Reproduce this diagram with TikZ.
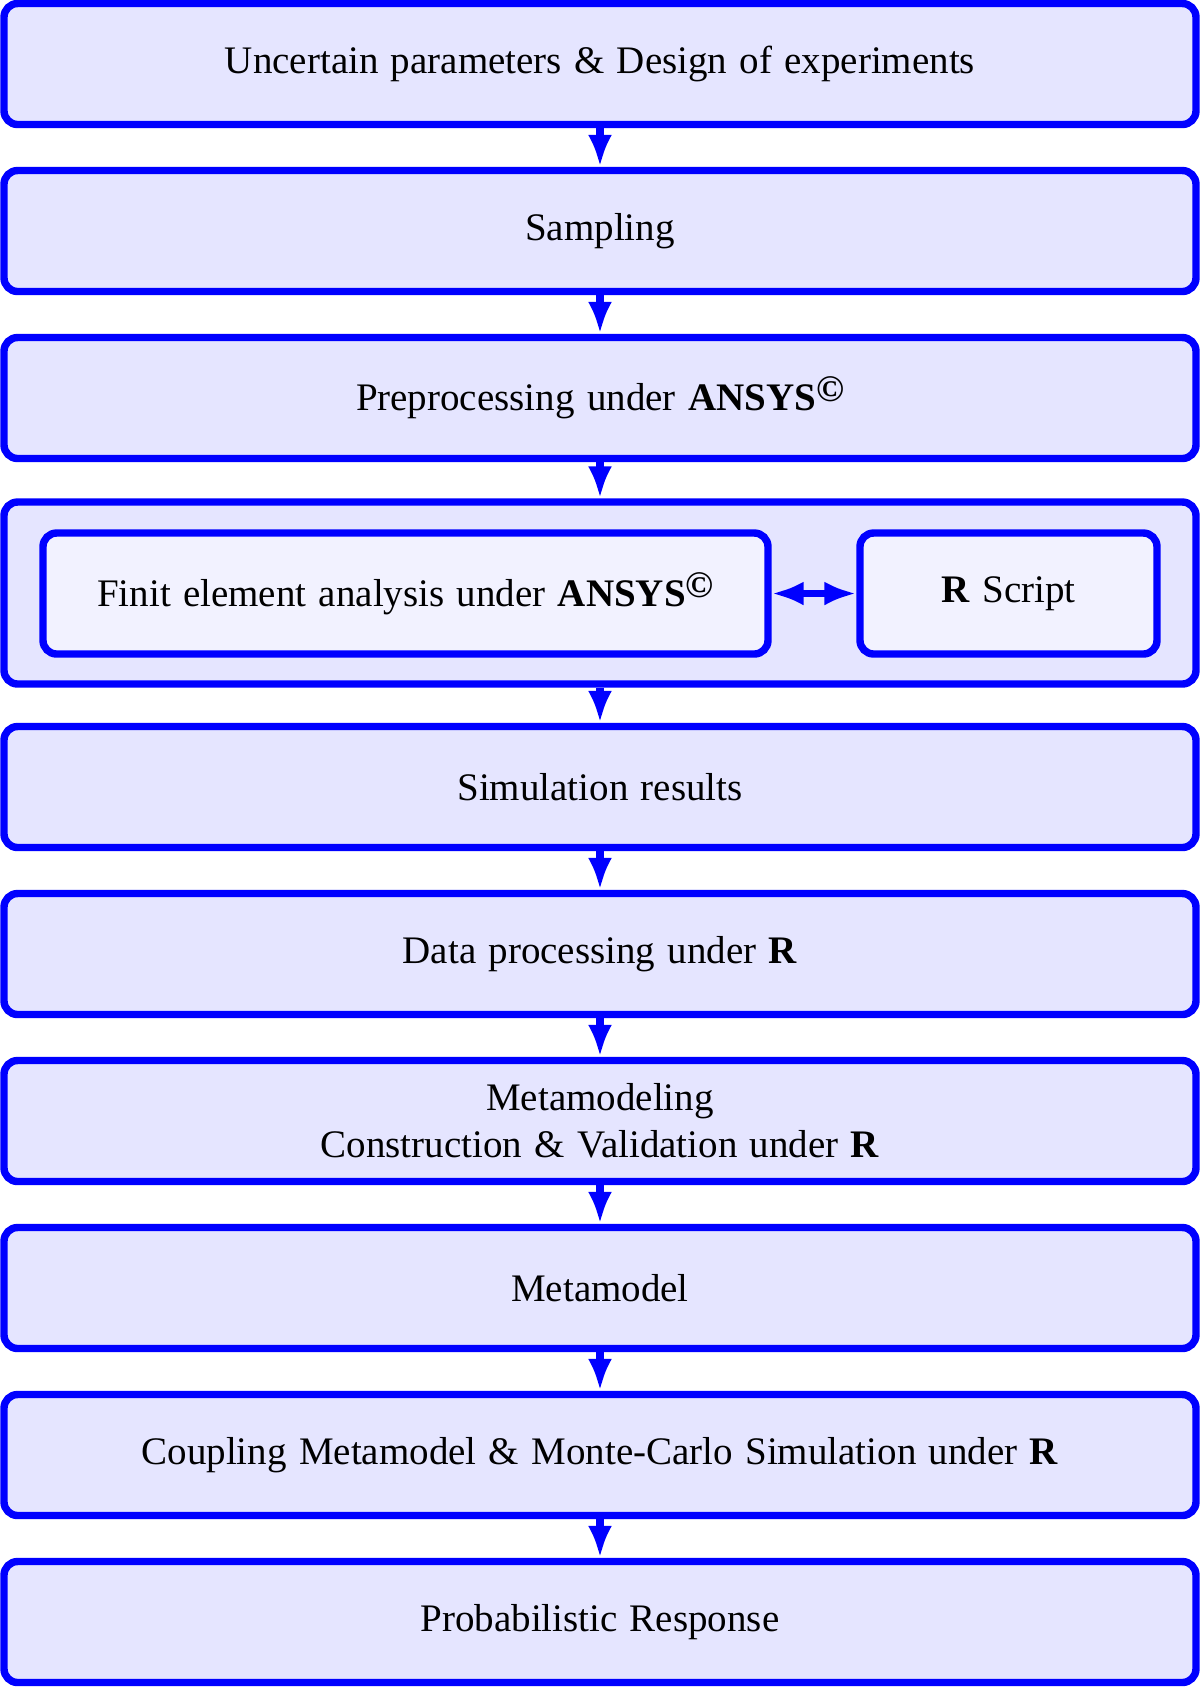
\documentclass[tikz,border=0pt]{standalone}
\usepackage{fontspec}
\setmainfont{Liberation Serif}[WordSpace=1.26]
\usetikzlibrary{arrows.meta}
\definecolor{boxfill}{RGB}{229,229,255}
\definecolor{innerfill}{RGB}{242,242,255}
\def\u{0.25641pt}
\newcommand{\copysup}{\raisebox{2.4pt}{\fontsize{9.6}{10}\selectfont\bfseries\copyright}}
\tikzset{
  box/.style={draw=blue, fill=boxfill, line width=1.9pt, rounded corners=3.5pt,
    minimum width=1192*\u, minimum height=121*\u, align=center, inner sep=0pt,
    font=\fontsize{10}{12}\selectfont},
  ibox/.style={box, fill=innerfill},
  >={Latex[length=8.2pt,width=6.2pt]},
  arr/.style={draw=blue, line width=1.9pt, ->},
  darr/.style={draw=blue, line width=1.9pt, <->},
}
\begin{document}
\begin{tikzpicture}[x=\u, y=-\u]
\useasboundingbox (0,0) rectangle (1200,1689);
\node[box] (n1) at (600,64) {Uncertain parameters \& Design of experiments};
\node[box] (n2) at (600,231) {Sampling};
\node[box] (n3) at (600,398) {Preprocessing under \textbf{ANSYS}\copysup};
\node[box, minimum height=182*\u] (n4) at (600,593) {};
\node[ibox, minimum width=725*\u] (fe) at (405.5,593.5) {Finit element analysis under \textbf{ANSYS}\copysup};
\node[ibox, minimum width=297*\u] (rs) at (1008.5,593.5) {\textbf{R} Script};
\node[box] (n5) at (600,787) {Simulation results};
\node[box] (n6) at (600,954) {Data processing under \textbf{R}};
\node[box] (n7) at (600,1121) {Metamodeling\\Construction \& Validation under \textbf{R}};
\node[box] (n8) at (600,1288) {Metamodel};
\node[box] (n9) at (600,1455) {Coupling Metamodel \& Monte-Carlo Simulation under \textbf{R}};
\node[box] (n10) at (600,1622) {Probabilistic Response};
\draw[arr] (n1) -- (n2);
\draw[arr] (n2) -- (n3);
\draw[arr] (n3) -- (n4);
\draw[arr] (n4) -- (n5);
\draw[arr] (n5) -- (n6);
\draw[arr] (n6) -- (n7);
\draw[arr] (n7) -- (n8);
\draw[arr] (n8) -- (n9);
\draw[arr] (n9) -- (n10);
\draw[darr] (fe) -- (rs);
\end{tikzpicture}
\end{document}
